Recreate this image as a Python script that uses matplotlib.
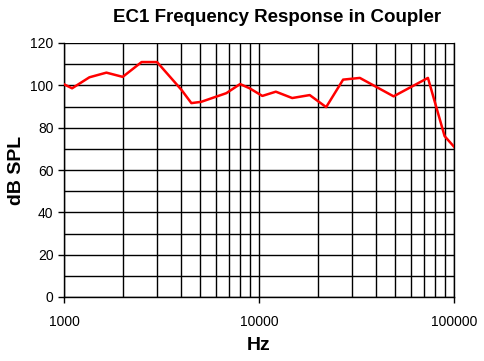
import matplotlib
matplotlib.use("Agg")
import matplotlib.pyplot as plt
from matplotlib.ticker import LogLocator, FixedLocator, NullFormatter, FuncFormatter

freq = [1000, 1100, 1350, 1650, 2000, 2500, 3000, 4000, 4500, 5050, 6800, 8000,
        8950, 10400, 12200, 14800, 18200, 22100, 27000, 32900, 49000, 73500, 89500, 100000]
spl = [100.5, 98.6, 103.8, 106.0, 104.0, 111.0, 111.0, 97.9, 91.6, 92.2, 96.3, 100.6,
       98.6, 95.0, 97.0, 94.0, 95.4, 89.7, 102.7, 103.5, 94.8, 103.5, 76.0, 71.0]

plt.rcParams['font.family'] = ['Liberation Sans', 'DejaVu Sans']

fig = plt.figure(figsize=(4.85, 3.61), dpi=100)
ax = fig.add_axes([64/485, 1-297/361, (454-64)/485, (297-43)/361])

ax.plot(freq, spl, color='#ff0000', lw=1.8, zorder=3)
ax.set_xscale('log')
ax.set_xlim(1000, 100000)
ax.set_ylim(0, 120)

ax.xaxis.set_major_locator(FixedLocator([1000, 10000, 100000]))
ax.xaxis.set_major_formatter(FuncFormatter(lambda v, p: f"{int(v)}"))
ax.xaxis.set_minor_locator(LogLocator(base=10, subs=range(2, 10)))
ax.xaxis.set_minor_formatter(NullFormatter())
ax.yaxis.set_major_locator(FixedLocator(list(range(0, 121, 20))))
ax.yaxis.set_minor_locator(FixedLocator(list(range(10, 120, 20))))

ax.grid(True, which='both', color='black', lw=1.0)
ax.set_axisbelow(True)
for s in ax.spines.values():
    s.set_linewidth(1.0)
ax.spines['top'].set_visible(False)

ax.tick_params(axis='both', which='major', direction='out', length=4, width=1.0, labelsize=10, color='black')
ax.tick_params(axis='x', which='major', pad=9)
ax.tick_params(axis='both', which='minor', length=0)

ax.set_xlabel('Hz', fontsize=14, fontweight='bold', labelpad=6)
ax.set_ylabel('dB SPL', fontsize=14, fontweight='bold', labelpad=4)
fig.text(277/485, 1-18/361, 'EC1 Frequency Response in Coupler', fontsize=13.5,
         fontweight='bold', ha='center', va='center')

fig.savefig('out.png', dpi=100)
